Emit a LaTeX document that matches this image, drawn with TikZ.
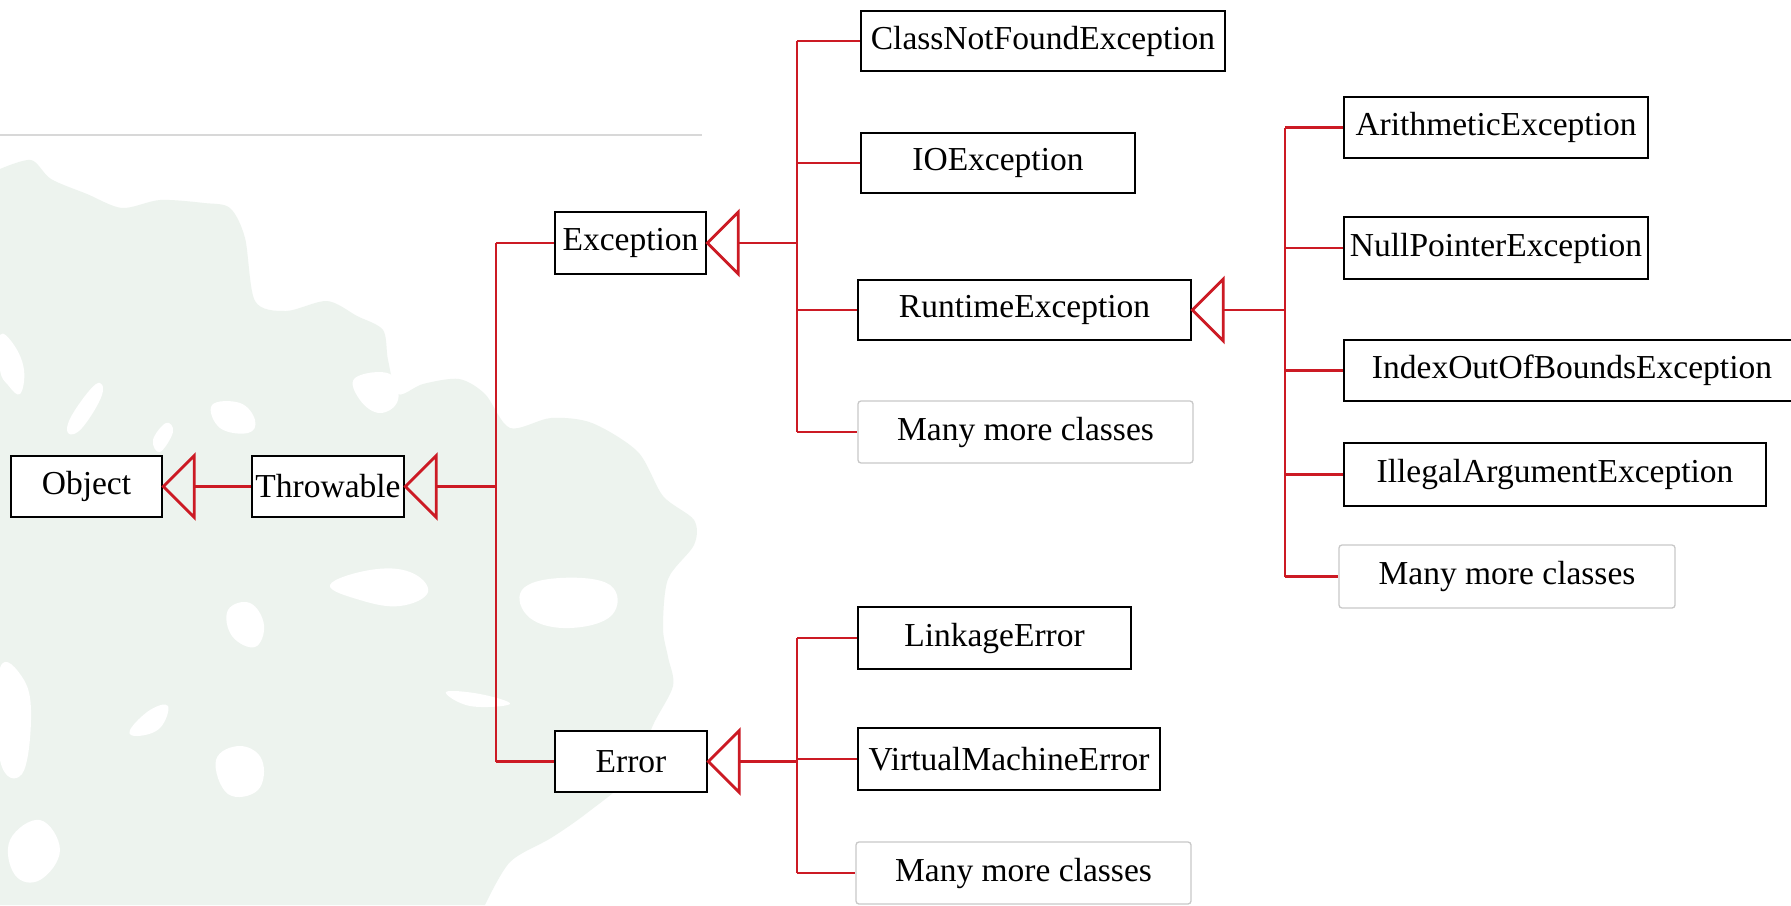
\documentclass[tikz,border=0pt]{standalone}
\usepackage{fontspec}
\setmainfont{Liberation Serif}
\definecolor{conn}{RGB}{204,26,36}
\definecolor{bgblob}{RGB}{237,243,238}
\definecolor{softgray}{RGB}{200,200,200}
\begin{document}
\begin{tikzpicture}[x=1pt,y=-1pt,
  box/.style={draw=black, line width=2.6pt, fill=white, minimum height=61pt,
    inner sep=0pt, font=\fontsize{33.5}{40}\selectfont},
  morebox/.style={box, draw=softgray, line width=1.3pt, rounded corners=3pt},
  link/.style={draw=conn, line width=2.8pt},
  patch/.style={fill=white}]
\useasboundingbox (0,0) rectangle (1791,905);
\fill[white] (0,0) rectangle (1791,905);
% background watermark
\fill[bgblob] plot[smooth, tension=0.5] coordinates {(0,169) (31,160) (51,179) (87,194) (122,208) (160,200) (204,203) (230,208) (245,238) (255,301) (286,311) (327,301) (357,316) (383,330) (388,360) (398,394) (423,384) (459,379) (485,394) (510,428) (551,418) (592,423) (638,452) (663,496) (694,520) (694,545) (668,579) (663,628) (668,657) (673,686) (653,725) (633,774) (587,813) (551,838) (510,862) (485,905)} -- (0,905) -- cycle;
\fill[patch] plot[smooth cycle, tension=0.7] coordinates {(0,335) (14,345) (24,370) (20,394) (8,385) (0,370)};
\fill[patch] plot[smooth cycle, tension=0.7] coordinates {(96,384) (102,395) (82,428) (68,433) (72,415)};
\fill[patch] plot[smooth cycle, tension=0.7] coordinates {(166,423) (173,432) (160,452) (153,440)};
\fill[patch] plot[smooth cycle, tension=0.7] coordinates {(212,405) (240,403) (255,420) (248,433) (220,428)};
\fill[patch] plot[smooth cycle, tension=0.7] coordinates {(355,378) (390,374) (398,400) (380,413) (360,400)};
\fill[patch] plot[smooth cycle, tension=0.7] coordinates {(330,585) (370,570) (410,572) (428,592) (400,606) (360,600)};
\fill[patch] plot[smooth cycle, tension=0.7] coordinates {(228,610) (250,603) (264,625) (255,647) (232,636)};
\fill[patch] plot[smooth cycle, tension=0.7] coordinates {(0,668) (24,680) (31,720) (22,774) (0,760)};
\fill[patch] plot[smooth cycle, tension=0.7] coordinates {(130,730) (150,710) (168,706) (160,728) (138,736)};
\fill[patch] plot[smooth cycle, tension=0.7] coordinates {(216,760) (240,746) (262,760) (258,790) (228,794)};
\fill[patch] plot[smooth cycle, tension=0.7] coordinates {(446,692) (480,694) (510,704) (470,706)};
\fill[patch] plot[smooth cycle, tension=0.7] coordinates {(522,590) (560,578) (610,585) (612,615) (570,628) (530,618)};
\fill[patch] plot[smooth cycle, tension=0.7] coordinates {(10,840) (40,820) (60,850) (40,880) (15,875)};
% thin grey rule
\draw[softgray!70, line width=1.2pt] (0,135) -- (702,135);
% classes
\node[box, minimum width=151pt] (object) at (86.5,486.5) {Object};
\node[box, minimum width=152pt] (throwable) at (328,486.5) {Throwable};
\node[box, minimum width=151pt, minimum height=62pt] (exception) at (630.5,243) {Exception};
\node[box, minimum width=152pt] (error) at (631,761.5) {Error};
\node[box, minimum width=364pt, minimum height=60pt] (cnf) at (1043,41) {ClassNotFoundException};
\node[box, minimum width=274pt, minimum height=60pt] (io) at (998,163) {IOException};
\node[box, minimum width=333pt, minimum height=60pt] (rt) at (1024.5,310) {RuntimeException};
\node[morebox, minimum width=335pt, minimum height=62pt] (moreex) at (1025.5,432) {Many more classes};
\node[box, minimum width=304pt] (arith) at (1496,127.5) {ArithmeticException};
\node[box, minimum width=304pt, minimum height=62pt] (npe) at (1496,248) {NullPointerException};
\node[box, minimum width=456pt] (ioob) at (1572,370.5) {IndexOutOfBoundsException};
\node[box, minimum width=422pt, minimum height=63pt] (iae) at (1555,474.5) {IllegalArgumentException};
\node[morebox, minimum width=336pt, minimum height=63pt] (morert) at (1507,576.5) {Many more classes};
\node[box, minimum width=273pt, minimum height=62pt] (link) at (994.5,638) {LinkageError};
\node[box, minimum width=302pt, minimum height=62pt] (vm) at (1009,759) {VirtualMachineError};
\node[morebox, minimum width=335pt, minimum height=62pt] (moreerr) at (1023.5,873) {Many more classes};
% bus positions
\coordinate (trunk) at (496,0);
\coordinate (exbus) at (797,0);
\coordinate (rtbus) at (1285,0);
\coordinate (errbus) at (797,0);
% Throwable -> Object
\draw[link] (object.east) -- ++(31,-31) -- ++(0,62) -- cycle;
\draw[link] (object.east) ++(31,0) -- (throwable.west);
% Exception, Error -> Throwable
\draw[link] (throwable.east) -- ++(31,-31) -- ++(0,62) -- cycle;
\draw[link] (throwable.east) ++(31,0) -- (throwable.east -| trunk);
\draw[link] (exception.west -| trunk) -- (error.west -| trunk);
\draw[link] (exception.west -| trunk) -- (exception.west);
\draw[link] (error.west -| trunk) -- (error.west);
% Exception subclasses
\draw[link] (exception.east) -- ++(31,-31) -- ++(0,62) -- cycle;
\draw[link] (exception.east) ++(31,0) -- (exception.east -| exbus);
\draw[link] (cnf.west -| exbus) -- (moreex.west -| exbus);
\foreach \n in {cnf,io,rt,moreex} \draw[link] (\n.west -| exbus) -- (\n.west);
% RuntimeException subclasses
\draw[link] (rt.east) -- ++(31,-31) -- ++(0,62) -- cycle;
\draw[link] (rt.east) ++(31,0) -- (rt.east -| rtbus);
\draw[link] (arith.west -| rtbus) -- (morert.west -| rtbus);
\foreach \n in {arith,npe,ioob,iae,morert} \draw[link] (\n.west -| rtbus) -- (\n.west);
% Error subclasses
\draw[link] (error.east) -- ++(31,-31) -- ++(0,62) -- cycle;
\draw[link] (error.east) ++(31,0) -- (error.east -| errbus);
\draw[link] (link.west -| errbus) -- (moreerr.west -| errbus);
\foreach \n in {link,vm,moreerr} \draw[link] (\n.west -| errbus) -- (\n.west);
\end{tikzpicture}
\end{document}
